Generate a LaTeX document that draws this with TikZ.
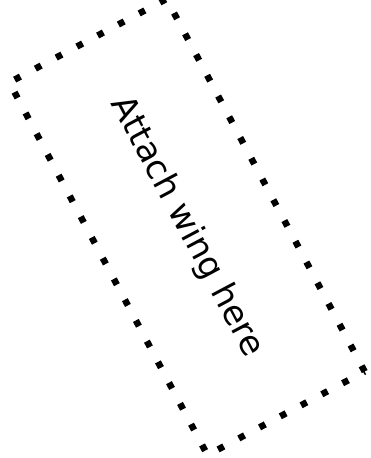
\documentclass[tikz,border=0pt]{standalone}
\usepackage{fontspec}
\setmainfont{DejaVu Sans}

\begin{document}
\begin{tikzpicture}[
  x=1pt,
  y=1pt,
  line cap=butt,
  line join=miter,
  dotted frame/.style={
    draw=black,
    line width=6.5pt,
    dash pattern=on 6.5pt off 17pt
  },
  wing slot/.style={
    dotted frame,
    rectangle,
    inner sep=0pt,
    outer sep=0pt,
    minimum width=422pt,
    minimum height=178pt,
    font=\fontsize{34}{40}\selectfont
  }
]
  \path[use as bounding box] (0,0) rectangle (371,458);

  % The slot is tilted so that its long side runs down to the right.
  \node[wing slot,rotate=-62] (slot) at (187,231) {Attach wing here};
\end{tikzpicture}
\end{document}
